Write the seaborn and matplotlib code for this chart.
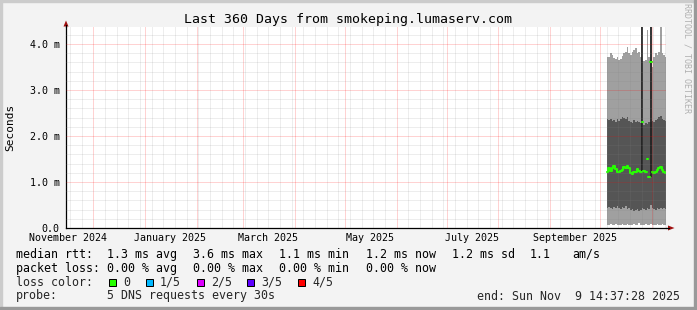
import numpy as np
import pandas as pd
import matplotlib
matplotlib.use("Agg")
import matplotlib.pyplot as plt
import matplotlib.dates as mdates
from matplotlib.ticker import MultipleLocator
from matplotlib.patches import Rectangle, Polygon
import seaborn as sns

sns.set_theme(style="white")
plt.rcParams['font.family'] = ['DejaVu Sans Mono', 'DejaVu Sans']

# ---------------- data ----------------
title = "Last 360 Days from smokeping.lumaserv.com"
t_start = pd.Timestamp("2024-11-14 14:37:28")
t_end = pd.Timestamp("2025-11-09 14:37:28")
days = pd.date_range("2025-10-05", periods=36, freq="D")

light_hi = [3.72, 3.72, 3.80, 3.76, 3.69, 3.67, 3.71, 3.65, 3.67, 3.74, 3.80, 3.83,
            3.94, 3.81, 3.76, 3.83, 3.87, 3.91, 3.80, 3.83, 3.72, 3.62, 3.62, 3.65,
            4.30, 3.72, 3.66, 3.51, 3.72, 3.80, 3.76, 3.83, 4.40, 3.80, 3.76, 3.72]
dark_hi = [2.36, 2.35, 2.38, 2.33, 2.35, 2.31, 2.36, 2.33, 2.38, 2.42, 2.40, 2.36,
           2.42, 2.33, 2.31, 2.28, 2.35, 2.31, 2.33, 2.30, 2.28, 2.26, 2.25, 2.28,
           2.26, 2.30, 2.30, 2.33, 2.31, 2.35, 2.38, 2.42, 2.44, 2.38, 2.35, 2.33]
dark_lo = [0.43, 0.46, 0.43, 0.41, 0.46, 0.43, 0.48, 0.44, 0.41, 0.46, 0.43, 0.48,
           0.41, 0.43, 0.39, 0.41, 0.37, 0.39, 0.41, 0.37, 0.39, 0.43, 0.41, 0.39,
           0.43, 0.41, 0.50, 0.43, 0.41, 0.39, 0.43, 0.41, 0.44, 0.41, 0.43, 0.41]
light_lo = [0.07, 0.06, 0.08, 0.06, 0.07, 0.09, 0.06, 0.07, 0.06, 0.08, 0.07, 0.06,
            0.09, 0.07, 0.06, 0.07, 0.08, 0.06, 0.07, 0.10, 0.06, 0.07, 0.06, 0.08,
            0.07, 0.06, 0.09, 0.07, 0.06, 0.07, 0.08, 0.06, 0.07, 0.09, 0.06, 0.07]
median_rtt = [1.22, 1.30, 1.24, 1.31, 1.35, 1.28, 1.22, 1.21, 1.24, 1.27, 1.33, 1.31,
              1.35, 1.30, 1.19, 1.17, 1.21, 1.22, 1.28, 1.24, 1.22, 2.30, 1.24, 1.21,
              1.51, 1.11, 3.60, 1.22, 1.19, 1.22, 1.26, 1.30, 1.33, 1.26, 1.22, 1.19]
spike_times = pd.to_datetime(["2025-10-26 12:00", "2025-10-31 12:00"])
spike_lo = [1.20, 1.10]
spike_hi = [5.0, 5.0]

y_ticks = [0, 1, 2, 3, 4]
y_tick_labels = ["0.0", "1.0 m", "2.0 m", "3.0 m", "4.0 m"]
x_label_dates = pd.to_datetime(["2024-11-16", "2025-01-16", "2025-03-16",
                                "2025-05-16", "2025-07-16", "2025-09-16"])
x_label_texts = ["November 2024", "January 2025", "March 2025",
                 "May 2025", "July 2025", "September 2025"]

legend_rows = [
    [(16, "median rtt:"), (107.3, "1.3 ms avg"), (193.3, "3.6 ms max"),
     (279.3, "1.1 ms min"), (366, "1.2 ms now"), (451.7, "1.2 ms sd"),
     (530, "1.1"), (572.7, "am/s")],
    [(16, "packet loss:"), (107.3, "0.00 % avg"), (193.3, "0.00 % max"),
     (279.3, "0.00 % min"), (366, "0.00 % now")],
]
loss_labels = ["0", "1/5", "2/5", "3/5", "4/5"]
loss_colors = ["#26ff00", "#00b8ff", "#dd00ff", "#5e00ff", "#ff0000"]
probe_text = "5 DNS requests every 30s"
end_text = "end: Sun Nov  9 14:37:28 2025"

# ---------------- figure ----------------
W, H = 697, 310
fig = plt.figure(figsize=(W / 100, H / 100), dpi=100)
fig.patch.set_facecolor("#f3f3f3")

def fx(px):
    return px / W

def fy(py):
    return 1 - py / H

# frame
fig.patches.append(Rectangle((0, 0), fx(2), 1, transform=fig.transFigure, color="#cccccc", zorder=0))
fig.patches.append(Rectangle((0, fy(2)), 1, 2 / H, transform=fig.transFigure, color="#cccccc", zorder=0))
fig.patches.append(Rectangle((1 - 3 / W, 0), 3 / W, 1, transform=fig.transFigure, color="#999999", zorder=0))
fig.patches.append(Rectangle((0, 0), 1, 3 / H, transform=fig.transFigure, color="#999999", zorder=0))

ax_left, ax_right, ax_top, ax_bot = 66, 666, 27, 228
ax = fig.add_axes([fx(ax_left), fy(ax_bot), (ax_right - ax_left) / W, (ax_bot - ax_top) / H])
ax.set_facecolor("white")

x_edges = list(days) + [t_end]
def ext(a):
    return list(a) + [a[-1]]

ax.fill_between(x_edges, ext(light_lo), ext(light_hi), step="post",
                color="#a0a0a0", lw=0, zorder=1)
ax.fill_between(x_edges, ext(dark_lo), ext(dark_hi), step="post",
                color="#555555", lw=0, zorder=1.2)
ax.vlines(spike_times, spike_lo, spike_hi, colors="#222222", lw=1.3, zorder=1.4)

# median: continuous step runs, broken where the median jumps sharply
seg_rows = []
grp = 0
for i, m in enumerate(median_rtt):
    if i > 0 and abs(m - median_rtt[i - 1]) > 0.2:
        grp += 1
    seg_rows.append({"time": x_edges[i], "median": m, "seg": grp})
    seg_rows.append({"time": x_edges[i + 1], "median": m, "seg": grp})
med_df = pd.DataFrame(seg_rows)
sns.lineplot(data=med_df, x="time", y="median", units="seg", estimator=None,
             sort=False, color="#26ff00", lw=1.5, ax=ax, zorder=1.6)

ax.set_xlim(t_start, t_end)
ax.set_ylim(0, (ax_bot - ax_top) / 46.0)

# grid
ax.xaxis.set_major_locator(mdates.MonthLocator())
ax.xaxis.set_minor_locator(mdates.WeekdayLocator(byweekday=mdates.SU))
ax.yaxis.set_major_locator(MultipleLocator(1))
ax.yaxis.set_minor_locator(MultipleLocator(0.2))
ax.set_axisbelow(False)
ax.grid(which="major", color="#ff0000", alpha=0.35, lw=0.72, ls=(0, (1, 1)))
ax.grid(which="minor", color="#808080", alpha=0.28, lw=0.72, ls=(0, (1, 1)))

ax.set_yticks(y_ticks)
ax.set_yticklabels(y_tick_labels)
ax.set_xticklabels([])
ax.tick_params(axis="both", which="both", direction="out", length=1.44, width=0.72)
ax.tick_params(axis="x", which="major", colors="#ff8080", labelbottom=False)
ax.tick_params(axis="x", which="minor", colors="#c0c0c0")
ax.tick_params(axis="y", which="major", color="#ff8080", labelcolor="black",
               labelsize=7.2, pad=3.0)
ax.tick_params(axis="y", which="minor", color="#c0c0c0")
ax.set_xlabel("")
ax.set_ylabel("")

for s in ["top", "right"]:
    ax.spines[s].set_visible(False)
for s in ["left", "bottom"]:
    ax.spines[s].set_color("black")
    ax.spines[s].set_linewidth(0.9)

# axis arrows
fig.add_artist(plt.Line2D([fx(ax_right), fx(669)], [fy(228), fy(228)], color="black", lw=0.9))
fig.add_artist(plt.Line2D([fx(66), fx(66)], [fy(27), fy(25)], color="black", lw=0.9))
fig.add_artist(Polygon([[fx(668), fy(225.5)], [fx(674.5), fy(228)], [fx(668), fy(230.5)]],
                       closed=True, transform=fig.transFigure, color="#a01010", lw=0))
fig.add_artist(Polygon([[fx(63.5), fy(26.5)], [fx(66), fy(20.5)], [fx(68.5), fy(26.5)]],
                       closed=True, transform=fig.transFigure, color="#a01010", lw=0))

# x labels
for d, t in zip(x_label_dates, x_label_texts):
    ax.text(d, -(238 - 228) / (ax_bot - ax_top), t, transform=ax.get_xaxis_transform(),
            ha="center", va="center", fontsize=7.2, color="black", clip_on=False)

# title, y label, watermark
fig.text(0.5, fy(19.5), title, ha="center", va="center", fontsize=9.5, color="black")
fig.text(fx(10.5), fy(127.5), "Seconds", rotation=90, ha="center", va="center",
         fontsize=8, color="black")
fig.text(fx(687), fy(58), "RRDTOOL / TOBI OETIKER", rotation=270, ha="center",
         va="center", fontsize=6.0, color="#b0b0b0")

# legend
row_y = [254.3, 268.3, 282.3, 296.0]
for row, yy in zip(legend_rows, row_y[:2]):
    for xx, s in row:
        fig.text(fx(xx), fy(yy), s, ha="left", va="center", fontsize=8.4, color="black")

fig.text(fx(16), fy(row_y[2]), "loss color:", ha="left", va="center", fontsize=8.4)
box_x = [108.7, 145.7, 196.7, 247.3, 297.7]
lab_x = [123.3, 160.0, 211.0, 261.7, 312.7]
for bx, lx, lab, col in zip(box_x, lab_x, loss_labels, loss_colors):
    fig.patches.append(Rectangle((fx(bx), fy(row_y[2] + 3.5)), 7 / W, 7 / H,
                                 transform=fig.transFigure, facecolor=col,
                                 edgecolor="black", lw=0.72, zorder=3))
    fig.text(fx(lx), fy(row_y[2]), lab, ha="left", va="center", fontsize=8.4)

fig.text(fx(16), fy(row_y[3]), "probe:", ha="left", va="center", fontsize=8.4)
fig.text(fx(107.3), fy(row_y[3]), probe_text, ha="left", va="center", fontsize=8.4)
fig.text(fx(680), fy(row_y[3]), end_text, ha="right", va="center", fontsize=8.4)

fig.savefig("out.png", dpi=100, facecolor=fig.get_facecolor())
